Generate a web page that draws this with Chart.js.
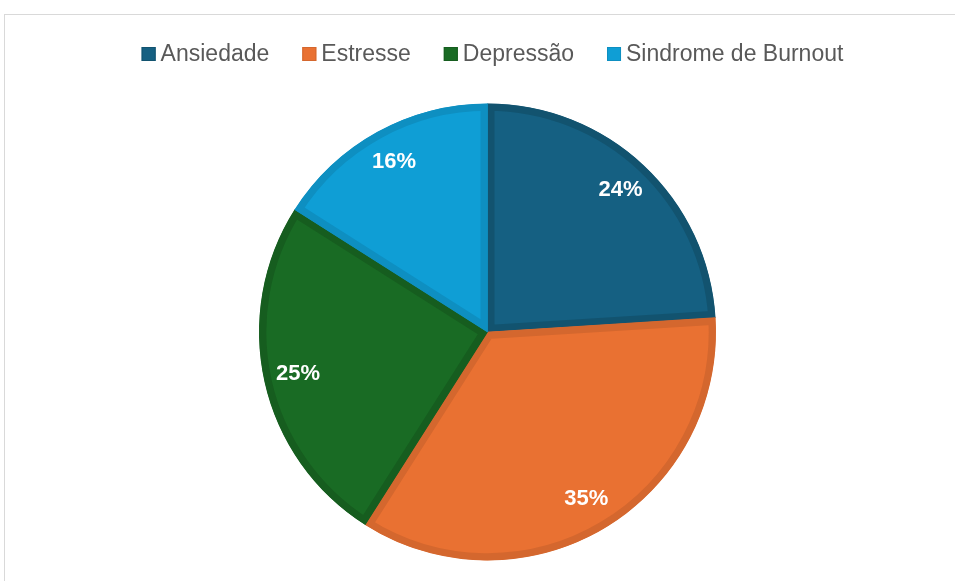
<!DOCTYPE html>
<html>
<head>
<meta charset="utf-8">
<script src="https://cdn.jsdelivr.net/npm/chart.js@4"></script>
<style>
  html, body { margin: 0; padding: 0; background: #ffffff; overflow: hidden; }
  #wrap { position: relative; width: 955px; height: 581px; }
  #frame { position: absolute; left: 4px; top: 14px; width: 980px; height: 620px; border: 1px solid #d9d9d9; box-sizing: border-box; }
  #c { position: absolute; left: 0; top: 0; }
</style>
</head>
<body>
<div id="wrap">
  <div id="frame"></div>
  <canvas id="c" width="955" height="581"></canvas>
</div>
<script>
const categories = ["Ansiedade", "Estresse", "Depressão", "Sindrome de Burnout"];
const values = [24, 35, 25, 16];
const fillColors = ["#156082", "#E97132", "#196B24", "#0F9ED5"];
const edgeColors = ["#12536f", "#d4672e", "#165d1f", "#0e8fc1"];

const legendPlugin = {
  id: 'customLegend',
  afterDraw(chart) {
    const ctx = chart.ctx;
    ctx.save();
    ctx.font = '23px "Liberation Sans", Arial, sans-serif';
    ctx.textBaseline = 'middle';
    const box = 14, gapBox = 5, gapItem = 33;
    const widths = categories.map(t => ctx.measureText(t).width);
    let total = 0;
    widths.forEach((w, i) => { total += box + gapBox + w + (i < widths.length - 1 ? gapItem : 0); });
    let x = 492.5 - total / 2;
    const yc = 54;
    categories.forEach((t, i) => {
      ctx.fillStyle = fillColors[i];
      ctx.fillRect(x, yc - box / 2, box, box);
      ctx.strokeStyle = edgeColors[i];
      ctx.lineWidth = 1;
      ctx.strokeRect(x + 0.5, yc - box / 2 + 0.5, box - 1, box - 1);
      ctx.fillStyle = '#595959';
      ctx.fillText(t, x + box + gapBox, yc + 1);
      x += box + gapBox + widths[i] + gapItem;
    });
    ctx.restore();
  }
};

const labelPlugin = {
  id: 'sliceLabels',
  afterDatasetsDraw(chart) {
    const ctx = chart.ctx;
    const meta = chart.getDatasetMeta(0);
    const total = values.reduce((a, b) => a + b, 0);
    ctx.save();
    ctx.font = 'bold 22px "Liberation Sans", Arial, sans-serif';
    ctx.fillStyle = '#ffffff';
    ctx.textAlign = 'center';
    ctx.textBaseline = 'middle';
    meta.data.forEach((arc, i) => {
      const p = arc.getProps(['x', 'y', 'startAngle', 'endAngle', 'outerRadius'], true);
      const mid = (p.startAngle + p.endAngle) / 2;
      const r = p.outerRadius * 0.85;
      const pct = Math.round(values[i] / total * 100) + '%';
      ctx.fillText(pct, p.x + Math.cos(mid) * r, p.y + Math.sin(mid) * r);
    });
    ctx.restore();
  }
};

new Chart(document.getElementById('c'), {
  type: 'pie',
  data: {
    labels: categories,
    datasets: [{
      data: values,
      backgroundColor: fillColors,
      borderColor: edgeColors,
      borderWidth: 7,
      borderAlign: 'inner',
      hoverOffset: 0
    }]
  },
  options: {
    responsive: false,
    animation: false,
    radius: 228.5,
    layout: { padding: { top: 103, bottom: 20, left: 30, right: 10 } },
    plugins: {
      legend: { display: false },
      tooltip: { enabled: false }
    }
  },
  plugins: [legendPlugin, labelPlugin]
});
</script>
</body>
</html>
